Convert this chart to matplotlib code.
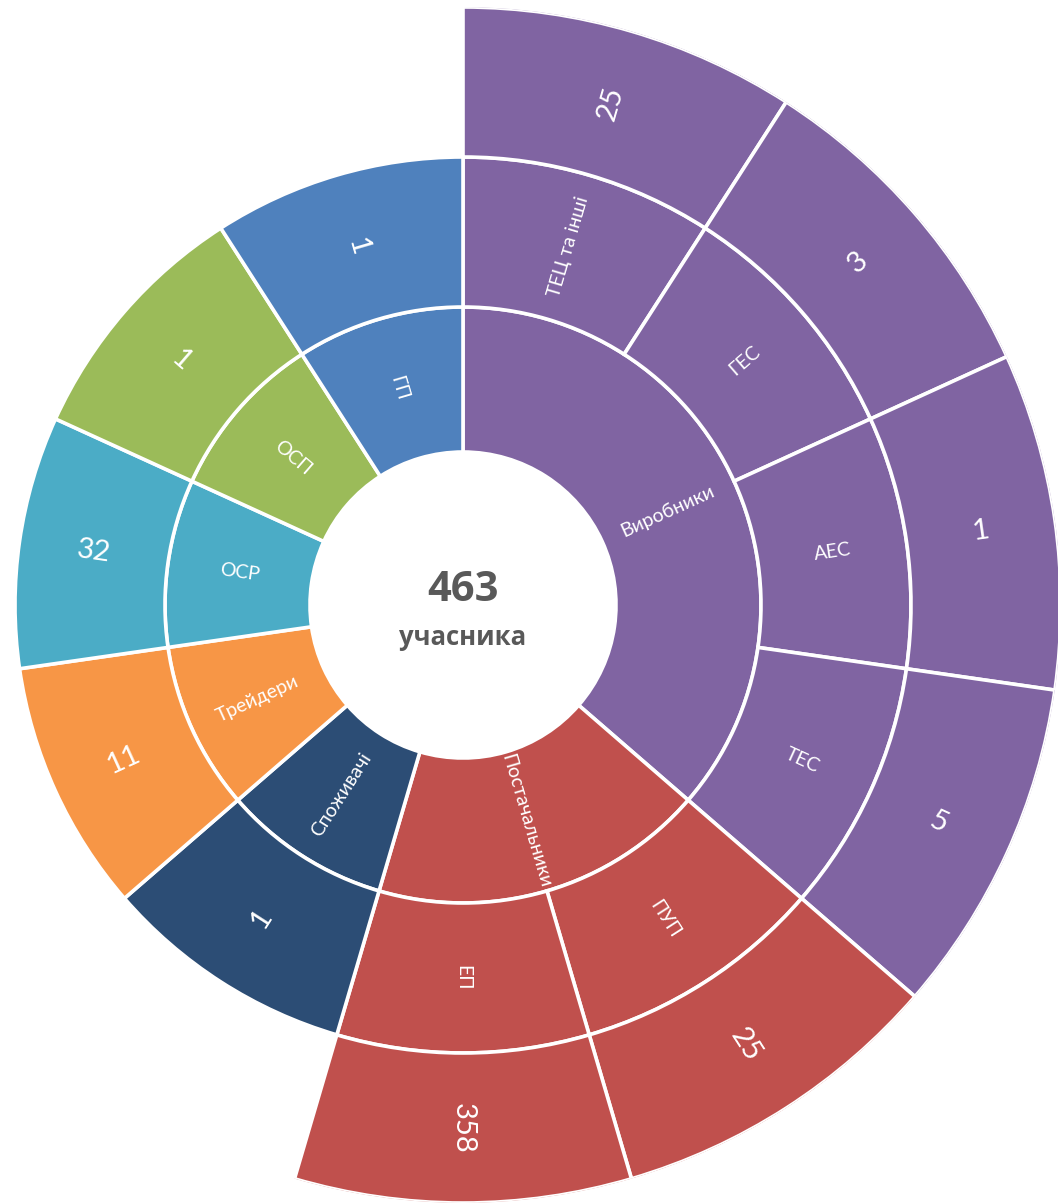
import matplotlib
matplotlib.use('Agg')
import matplotlib.pyplot as plt
import numpy as np

# ---- data ----
categories = ['Виробники', 'Постачальники', 'Споживачі', 'Трейдери', 'ОСР', 'ОСП', 'ГП']
category_colors = ['#8064A2', '#C0504D', '#2C4D75', '#F79646', '#4BACC6', '#9BBB59', '#4F81BD']
producer_types = ['ТЕЦ та інші', 'ГЕС', 'АЕС', 'ТЕС']
producer_counts = [25, 3, 1, 5]
supplier_types = ['ПУП', 'ЕП']
supplier_counts = [25, 358]
other_counts = [1, 11, 32, 1, 1]   # Споживачі, Трейдери, ОСР, ОСП, ГП
center_word = 'учасника'

subtypes = {'Виробники': (producer_types, producer_counts),
            'Постачальники': (supplier_types, supplier_counts)}
others = dict(zip(categories[2:], other_counts))
total = sum(producer_counts) + sum(supplier_counts) + sum(other_counts)

# ---- layout ----
W, H, DPI = 1058, 1203, 100
cx, cy = 463, 605
R0, R1, R2, R3 = 153, 298, 448, 598
fig = plt.figure(figsize=(W / DPI, H / DPI), dpi=DPI, facecolor='white')
ax = fig.add_axes([(cx - R3) / W, (H - cy - R3) / H, 2 * R3 / W, 2 * R3 / H],
                  projection='polar')
ax.set_theta_zero_location('N')
ax.set_theta_direction(-1)
ax.set_ylim(0, R3)
ax.set_axis_off()

n_leaves = sum(len(subtypes[c][0]) if c in subtypes else 1 for c in categories)
w = 2 * np.pi / n_leaves
EDGE = dict(edgecolor='white', linewidth=2.6)
FONT = ['Lato', 'DejaVu Sans']
CFONT = ['Open Sans', 'DejaVu Sans']
LBL = dict(color='white', family=FONT, ha='center', va='center', rotation_mode='anchor')
SMALL, BIG = 14, 21


def rot_for(theta):
    math_deg = 90 - np.degrees(theta)
    math_deg = (math_deg + 180) % 360 - 180
    if math_deg > 90:
        return math_deg - 180
    if math_deg < -90:
        return math_deg + 180
    return math_deg


def label(theta, r, s, size):
    ax.text(theta, r, s, rotation=rot_for(theta), fontsize=size, **LBL)


leaf = 0
for cat, col in zip(categories, category_colors):
    if cat in subtypes:
        names, vals = subtypes[cat]
        n = len(names)
        th = (leaf + n / 2) * w
        ax.bar(th, R1 - R0, width=n * w, bottom=R0, color=col, **EDGE)
        label(th, (R0 + R1) / 2, cat, SMALL)
        for k, (nm, v) in enumerate(zip(names, vals)):
            t = (leaf + k + 0.5) * w
            ax.bar(t, R2 - R1, width=w, bottom=R1, color=col, **EDGE)
            label(t, (R1 + R2) / 2, nm, SMALL)
            ax.bar(t, R3 - R2, width=w, bottom=R2, color=col, **EDGE)
            label(t, (R2 + R3) / 2, str(v), BIG)
        leaf += n
    else:
        t = (leaf + 0.5) * w
        ax.bar(t, R1 - R0, width=w, bottom=R0, color=col, **EDGE)
        label(t, (R0 + R1) / 2, cat, SMALL)
        ax.bar(t, R2 - R1, width=w, bottom=R1, color=col, **EDGE)
        label(t, (R1 + R2) / 2, str(others[cat]), BIG)
        leaf += 1

ax.text(0.5, 0.5 + 14 / (2 * R3), str(total), transform=ax.transAxes, ha='center', va='center',
        fontsize=30, fontweight='bold', color='#595959', family=CFONT)
ax.text(0.5, 0.5 - 33 / (2 * R3), center_word, transform=ax.transAxes, ha='center', va='center',
        fontsize=18.5, fontweight='bold', color='#595959', family=CFONT)

fig.savefig('out.png', dpi=DPI, facecolor='white')
